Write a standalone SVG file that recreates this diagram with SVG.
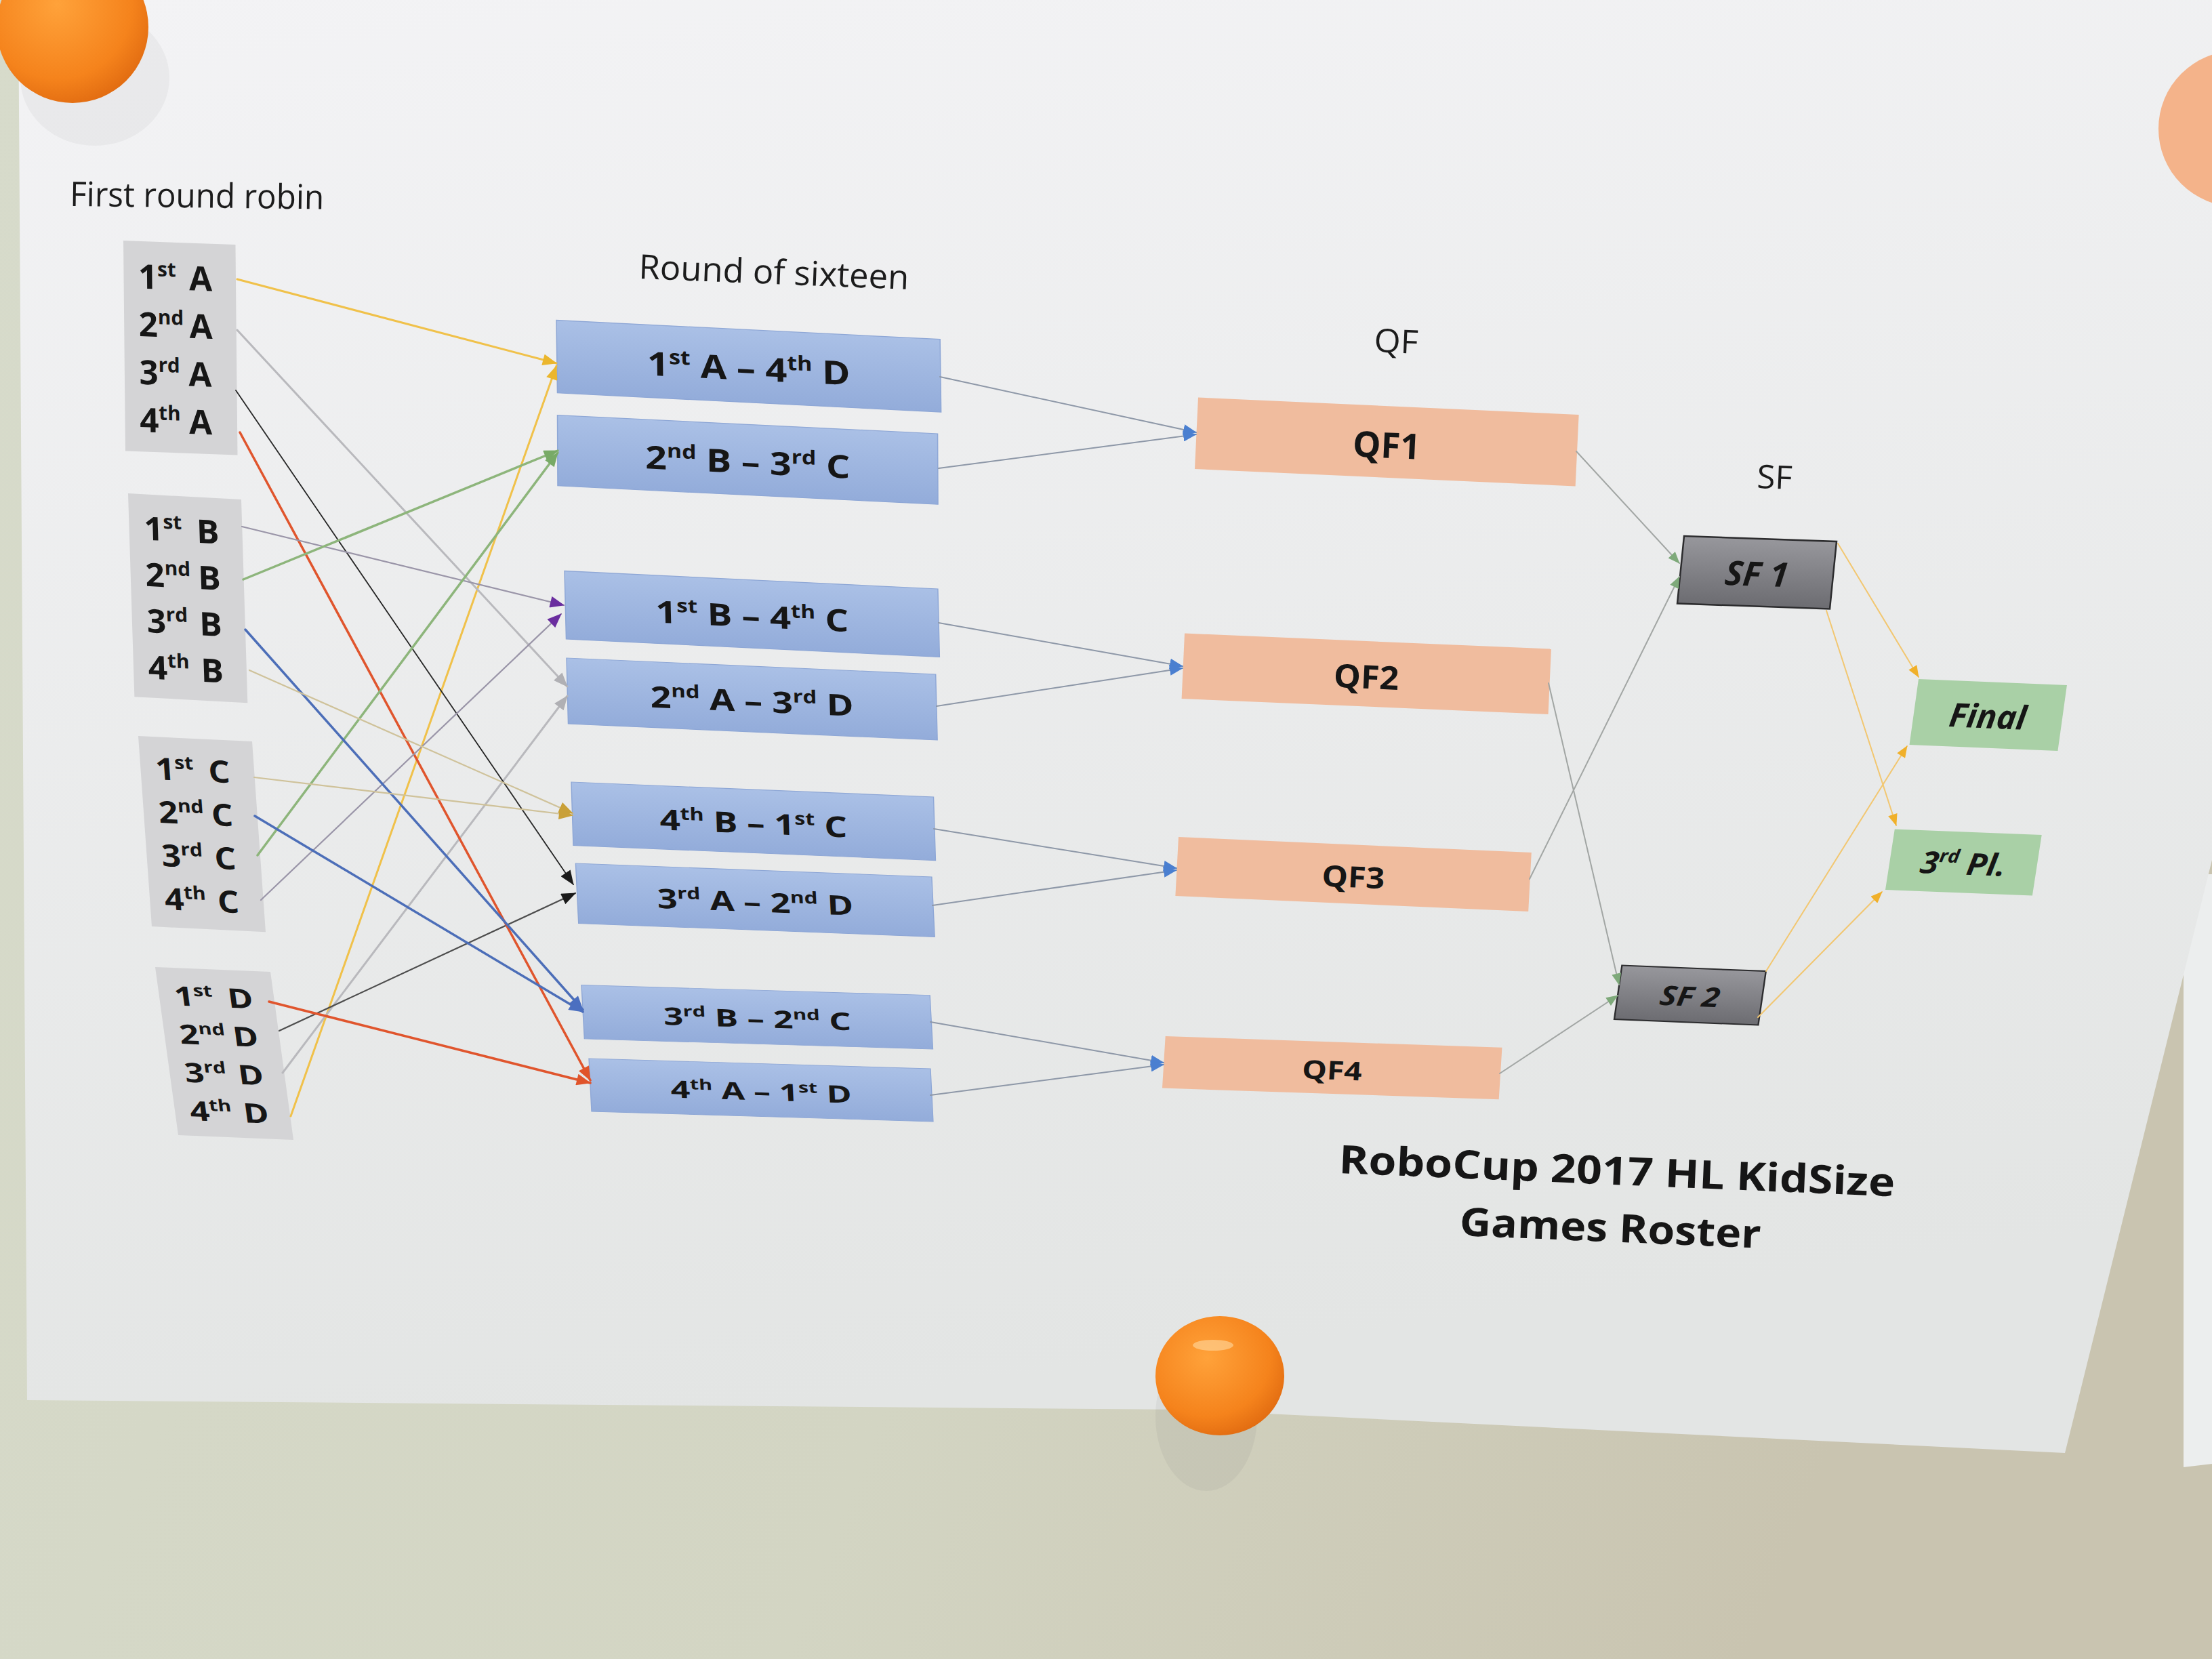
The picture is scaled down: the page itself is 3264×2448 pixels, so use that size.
<svg xmlns="http://www.w3.org/2000/svg" width="3264" height="2448" viewBox="0 0 3264 2448">
<defs>
<style>
.lbl{font-family:"Open Sans","Liberation Sans",sans-serif;font-weight:700;fill:#161616}
.hdr{font-family:"Open Sans","Liberation Sans",sans-serif;font-weight:400;fill:#1c1c1c}
.gt{font-size:50px}
.gsup{font-size:30px}
.rt{font-size:56px}
.rsup{font-size:34px}
.qt{font-size:52px}
.st{font-size:50px;font-style:italic}
.ssup{font-size:30px}
.grp{fill:#d4d4d6}
.r16{fill:url(#gBlue);stroke:#8ea7d6;stroke-width:1.5}
.qf{fill:#f0bc9e}
.sf{fill:url(#gGrey);stroke:#2c2c2e;stroke-width:2.5}
.fin{fill:#a9d0a6}
.c{fill:none;stroke-linecap:round}
.cy{stroke:#f0c14a;stroke-width:3}
.cg{stroke:#b9b9bd;stroke-width:3}
.ck{stroke:#262626;stroke-width:1.8}
.cd{stroke:#4d4d4d;stroke-width:2.2}
.cr{stroke:#e0552d;stroke-width:3.5}
.cp{stroke:#9a95a8;stroke-width:2.2}
.cgr{stroke:#8db57b;stroke-width:3.5}
.cb{stroke:#4c6eb8;stroke-width:3.5}
.ct{stroke:#cfc29a;stroke-width:2.2}
.cq{stroke:#8e98a8;stroke-width:2}
.cs{stroke:#a2a6a4;stroke-width:2}
.cf{stroke:#f2c771;stroke-width:2}
</style>
<linearGradient id="gBlue" x1="0" y1="0" x2="0" y2="1"><stop offset="0" stop-color="#aac0e6"/><stop offset="1" stop-color="#93acda"/></linearGradient>
<linearGradient id="gGrey" x1="0" y1="0" x2="0" y2="1"><stop offset="0" stop-color="#97979c"/><stop offset="1" stop-color="#6c6c71"/></linearGradient>
<linearGradient id="gPaper" x1="0" y1="0" x2="0.2" y2="1"><stop offset="0" stop-color="#f3f3f5"/><stop offset="1" stop-color="#e3e5e4"/></linearGradient>
<linearGradient id="gWall" x1="0" y1="0" x2="1" y2="0.3"><stop offset="0" stop-color="#d7dbcb"/><stop offset="0.6" stop-color="#d3d5c3"/><stop offset="1" stop-color="#c9c4b0"/></linearGradient>
<radialGradient id="gMag" cx="0.4" cy="0.35" r="0.7"><stop offset="0" stop-color="#ffa23a"/><stop offset="0.7" stop-color="#f5831c"/><stop offset="1" stop-color="#e06a10"/></radialGradient>
<marker id="mY" viewBox="0 0 10 8" refX="9.5" refY="4" markerWidth="22" markerHeight="17" markerUnits="userSpaceOnUse" orient="auto"><path d="M0,0L10,4L0,8z" fill="#ebb62d"/></marker>
<marker id="mG" viewBox="0 0 10 8" refX="9.5" refY="4" markerWidth="22" markerHeight="17" markerUnits="userSpaceOnUse" orient="auto"><path d="M0,0L10,4L0,8z" fill="#b0b0b4"/></marker>
<marker id="mK" viewBox="0 0 10 8" refX="9.5" refY="4" markerWidth="22" markerHeight="17" markerUnits="userSpaceOnUse" orient="auto"><path d="M0,0L10,4L0,8z" fill="#1a1a1a"/></marker>
<marker id="mR" viewBox="0 0 10 8" refX="9.5" refY="4" markerWidth="22" markerHeight="17" markerUnits="userSpaceOnUse" orient="auto"><path d="M0,0L10,4L0,8z" fill="#e0542a"/></marker>
<marker id="mP" viewBox="0 0 10 8" refX="9.5" refY="4" markerWidth="22" markerHeight="17" markerUnits="userSpaceOnUse" orient="auto"><path d="M0,0L10,4L0,8z" fill="#6a2d9f"/></marker>
<marker id="mGr" viewBox="0 0 10 8" refX="9.5" refY="4" markerWidth="22" markerHeight="17" markerUnits="userSpaceOnUse" orient="auto"><path d="M0,0L10,4L0,8z" fill="#78aa66"/></marker>
<marker id="mB" viewBox="0 0 10 8" refX="9.5" refY="4" markerWidth="22" markerHeight="17" markerUnits="userSpaceOnUse" orient="auto"><path d="M0,0L10,4L0,8z" fill="#4b6fc0"/></marker>
<marker id="mT" viewBox="0 0 10 8" refX="9.5" refY="4" markerWidth="22" markerHeight="17" markerUnits="userSpaceOnUse" orient="auto"><path d="M0,0L10,4L0,8z" fill="#c9a038"/></marker>
<marker id="mQ" viewBox="0 0 10 8" refX="9.5" refY="4" markerWidth="20" markerHeight="16" markerUnits="userSpaceOnUse" orient="auto"><path d="M0,0L10,4L0,8z" fill="#4a7fd0"/></marker>
<marker id="mS" viewBox="0 0 10 8" refX="9.5" refY="4" markerWidth="18" markerHeight="14" markerUnits="userSpaceOnUse" orient="auto"><path d="M0,0L10,4L0,8z" fill="#7ea97a"/></marker>
<marker id="mF" viewBox="0 0 10 8" refX="9.5" refY="4" markerWidth="18" markerHeight="14" markerUnits="userSpaceOnUse" orient="auto"><path d="M0,0L10,4L0,8z" fill="#f0b02a"/></marker>
</defs>

<g id="background">
<rect width="3264" height="2448" fill="url(#gWall)"/>
<polygon points="3222,1290 3264,1290 3264,2160 3222,2165" fill="#eceeee"/>
<polygon points="27,0 3264,0 3264,1269 3047,2144 1750,2080 40,2066" fill="url(#gPaper)"/>
<ellipse cx="140" cy="115" rx="110" ry="100" fill="#6a6a6a" opacity="0.06"/>
<circle cx="107" cy="40" r="112" fill="url(#gMag)"/>
<circle cx="3300" cy="190" r="115" fill="#f4a878" opacity="0.85"/>
<ellipse cx="1780" cy="2090" rx="75" ry="110" fill="#6a6a60" opacity="0.08"/>
<ellipse cx="1800" cy="2030" rx="95" ry="88" fill="url(#gMag)"/>
<ellipse cx="1790" cy="1985" rx="30" ry="8" fill="#ffd9a0" opacity="0.6"/>
</g>

<g id="nodes">
<g id="grpA" transform="matrix(0.985,0.036,0.0096,0.995,182,355)">
<rect class="grp" width="168" height="312"/>
<text class="lbl gt" x="22" y="70">1<tspan class="gsup" dy="-19">st</tspan><tspan x="98" dy="19">A</tspan></text>
<text class="lbl gt" x="22" y="141">2<tspan class="gsup" dy="-19">nd</tspan><tspan x="98" dy="19">A</tspan></text>
<text class="lbl gt" x="22" y="212">3<tspan class="gsup" dy="-19">rd</tspan><tspan x="96" dy="19">A</tspan></text>
<text class="lbl gt" x="22" y="283">4<tspan class="gsup" dy="-19">th</tspan><tspan x="96" dy="19">A</tspan></text>
</g>
<g id="grpB" transform="matrix(0.994,0.054,0.030,0.962,189,728)">
<rect class="grp" width="168" height="312"/>
<text class="lbl gt" x="22" y="70">1<tspan class="gsup" dy="-19">st</tspan><tspan x="100" dy="19">B</tspan></text>
<text class="lbl gt" x="22" y="141">2<tspan class="gsup" dy="-19">nd</tspan><tspan x="100" dy="19">B</tspan></text>
<text class="lbl gt" x="22" y="212">3<tspan class="gsup" dy="-19">rd</tspan><tspan x="100" dy="19">B</tspan></text>
<text class="lbl gt" x="22" y="283">4<tspan class="gsup" dy="-19">th</tspan><tspan x="100" dy="19">B</tspan></text>
</g>
<g id="grpC" transform="matrix(1.0,0.048,0.064,0.901,204,1086)">
<rect class="grp" width="168" height="312"/>
<text class="lbl gt" x="22" y="70">1<tspan class="gsup" dy="-19">st</tspan><tspan x="100" dy="19">C</tspan></text>
<text class="lbl gt" x="22" y="141">2<tspan class="gsup" dy="-19">nd</tspan><tspan x="100" dy="19">C</tspan></text>
<text class="lbl gt" x="22" y="212">3<tspan class="gsup" dy="-19">rd</tspan><tspan x="100" dy="19">C</tspan></text>
<text class="lbl gt" x="22" y="283">4<tspan class="gsup" dy="-19">th</tspan><tspan x="100" dy="19">C</tspan></text>
</g>
<g id="grpD" transform="matrix(1.012,0.042,0.109,0.795,229,1427)">
<rect class="grp" width="168" height="312"/>
<text class="lbl gt" x="22" y="70">1<tspan class="gsup" dy="-19">st</tspan><tspan x="100" dy="19">D</tspan></text>
<text class="lbl gt" x="22" y="141">2<tspan class="gsup" dy="-19">nd</tspan><tspan x="100" dy="19">D</tspan></text>
<text class="lbl gt" x="22" y="212">3<tspan class="gsup" dy="-19">rd</tspan><tspan x="100" dy="19">D</tspan></text>
<text class="lbl gt" x="22" y="283">4<tspan class="gsup" dy="-19">th</tspan><tspan x="100" dy="19">D</tspan></text>
</g>

<g id="r16-1" transform="matrix(1.002,0.0499,0.012,0.865,821,472.5)">
<rect class="r16" width="565" height="124"/>
<text class="lbl rt" x="282.5" y="86" text-anchor="middle">1<tspan class="rsup" dy="-21">st</tspan><tspan dy="21"> A – 4</tspan><tspan class="rsup" dy="-21">th</tspan><tspan dy="21"> D</tspan></text>
</g>
<g id="r16-2" transform="matrix(0.993,0.0485,0.004,0.840,822.5,612.6)">
<rect class="r16" width="565" height="124"/>
<text class="lbl rt" x="282.5" y="86" text-anchor="middle">2<tspan class="rsup" dy="-21">nd</tspan><tspan dy="21"> B – 3</tspan><tspan class="rsup" dy="-21">rd</tspan><tspan dy="21"> C</tspan></text>
</g>
<g id="r16-3" transform="matrix(0.975,0.0469,0.020,0.810,833,842.5)">
<rect class="r16" width="565" height="124"/>
<text class="lbl rt" x="282.5" y="86" text-anchor="middle">1<tspan class="rsup" dy="-21">st</tspan><tspan dy="21"> B – 4</tspan><tspan class="rsup" dy="-21">th</tspan><tspan dy="21"> C</tspan></text>
</g>
<g id="r16-4" transform="matrix(0.964,0.0425,0.020,0.782,836,971)">
<rect class="r16" width="565" height="124"/>
<text class="lbl rt" x="282.5" y="86" text-anchor="middle">2<tspan class="rsup" dy="-21">nd</tspan><tspan dy="21"> A – 3</tspan><tspan class="rsup" dy="-21">rd</tspan><tspan dy="21"> D</tspan></text>
</g>
<g id="r16-5" transform="matrix(0.946,0.039,0.024,0.754,843,1154)">
<rect class="r16" width="565" height="124"/>
<text class="lbl rt" x="282.5" y="86" text-anchor="middle">4<tspan class="rsup" dy="-21">th</tspan><tspan dy="21"> B – 1</tspan><tspan class="rsup" dy="-21">st</tspan><tspan dy="21"> C</tspan></text>
</g>
<g id="r16-6" transform="matrix(0.930,0.0354,0.035,0.713,849.4,1274)">
<rect class="r16" width="565" height="124"/>
<text class="lbl rt" x="282.5" y="86" text-anchor="middle">3<tspan class="rsup" dy="-21">rd</tspan><tspan dy="21"> A – 2</tspan><tspan class="rsup" dy="-21">nd</tspan><tspan dy="21"> D</tspan></text>
</g>
<g id="r16-7" transform="matrix(0.910,0.0267,0.035,0.640,858,1453.5)">
<rect class="r16" width="565" height="124"/>
<text class="lbl rt" x="282.5" y="86" text-anchor="middle">3<tspan class="rsup" dy="-21">rd</tspan><tspan dy="21"> B – 2</tspan><tspan class="rsup" dy="-21">nd</tspan><tspan dy="21"> C</tspan></text>
</g>
<g id="r16-8" transform="matrix(0.892,0.0265,0.032,0.629,869,1562)">
<rect class="r16" width="565" height="124"/>
<text class="lbl rt" x="282.5" y="86" text-anchor="middle">4<tspan class="rsup" dy="-21">th</tspan><tspan dy="21"> A – 1</tspan><tspan class="rsup" dy="-21">st</tspan><tspan dy="21"> D</tspan></text>
</g>

<g id="qf1" transform="matrix(1.003,0.0455,-0.048,1.005,1768,586.5)">
<rect class="qf" width="560" height="105"/>
<text class="lbl qt" x="280" y="76" text-anchor="middle">QF1</text>
</g>
<g id="qf2" transform="matrix(0.966,0.041,-0.042,0.918,1748,934.6)">
<rect class="qf" width="560" height="105"/>
<text class="lbl qt" x="280" y="76" text-anchor="middle">QF2</text>
</g>
<g id="qf3" transform="matrix(0.930,0.041,-0.044,0.829,1739,1235)">
<rect class="qf" width="560" height="105"/>
<text class="lbl qt" x="280" y="76" text-anchor="middle">QF3</text>
</g>
<g id="qf4" transform="matrix(0.887,0.030,-0.045,0.729,1719.7,1529)">
<rect class="qf" width="560" height="105"/>
<text class="lbl qt" x="280" y="76" text-anchor="middle">QF4</text>
</g>

<g id="sf1" transform="matrix(1,0.0356,-0.10,0.995,2485,791)">
<rect class="sf" width="225" height="100"/>
<text class="lbl st" x="112.5" y="70" text-anchor="middle">SF 1</text>
</g>
<g id="sf2" transform="matrix(0.944,0.038,-0.114,0.795,2393.4,1424.5)">
<rect class="sf" width="225" height="100"/>
<text class="lbl st" x="112.5" y="70" text-anchor="middle">SF 2</text>
</g>
<g id="final" transform="matrix(0.973,0.04,-0.135,0.97,2831,1002)">
<rect class="fin" width="225" height="100"/>
<text class="lbl st" x="112.5" y="70" text-anchor="middle">Final</text>
</g>
<g id="third" transform="matrix(0.964,0.038,-0.138,0.895,2795.8,1223.5)">
<rect class="fin" width="225" height="100"/>
<text class="lbl st" x="112.5" y="70" text-anchor="middle">3<tspan class="ssup" dy="-19">rd</tspan><tspan dy="19"> Pl.</tspan></text>
</g>
</g>

<g id="connectors">
<path class="c cy" d="M350,412L821,536" marker-end="url(#mY)"/>
<path class="c cy" d="M429,1647L821,540" marker-end="url(#mY)"/>
<path class="c cg" d="M350,487L837,1013" marker-end="url(#mG)"/>
<path class="c cg" d="M417,1583L837,1027" marker-end="url(#mG)"/>
<path class="c ck" d="M348,576L846,1305" marker-end="url(#mK)"/>
<path class="c cd" d="M412,1521L849,1318" marker-end="url(#mK)"/>
<path class="c cr" d="M354,638L871,1594" marker-end="url(#mR)"/>
<path class="c cr" d="M397,1478L871,1598" marker-end="url(#mR)"/>
<path class="c cp" d="M357,777L832,893" marker-end="url(#mP)"/>
<path class="c cp" d="M385,1328L828,906" marker-end="url(#mP)"/>
<path class="c cgr" d="M359,855L823,665" marker-end="url(#mGr)"/>
<path class="c cgr" d="M380,1262L823,668" marker-end="url(#mGr)"/>
<path class="c cb" d="M362,929L860,1490" marker-end="url(#mB)"/>
<path class="c cb" d="M376,1204L860,1493" marker-end="url(#mB)"/>
<path class="c ct" d="M368,989L845,1200" marker-end="url(#mT)"/>
<path class="c ct" d="M375,1147L845,1203" marker-end="url(#mT)"/>
<path class="c cq" d="M1387,556L1765,638" marker-end="url(#mQ)"/>
<path class="c cq" d="M1385,691L1765,641" marker-end="url(#mQ)"/>
<path class="c cq" d="M1385,919L1745,983" marker-end="url(#mQ)"/>
<path class="c cq" d="M1382,1042L1745,986" marker-end="url(#mQ)"/>
<path class="c cq" d="M1378,1223L1736,1281" marker-end="url(#mQ)"/>
<path class="c cq" d="M1376,1336L1736,1284" marker-end="url(#mQ)"/>
<path class="c cq" d="M1373,1508L1717,1568" marker-end="url(#mQ)"/>
<path class="c cq" d="M1373,1616L1717,1571" marker-end="url(#mQ)"/>
<path class="c cs" d="M2326,666L2478,831" marker-end="url(#mS)"/>
<path class="c cs" d="M2257,1297L2478,851" marker-end="url(#mS)"/>
<path class="c cs" d="M2285,1008L2389,1453" marker-end="url(#mS)"/>
<path class="c cs" d="M2213,1584L2387,1469" marker-end="url(#mS)"/>
<path class="c cf" d="M2712,802L2831,999" marker-end="url(#mF)"/>
<path class="c cf" d="M2695,901L2798,1218" marker-end="url(#mF)"/>
<path class="c cf" d="M2606,1433L2814,1101" marker-end="url(#mF)"/>
<path class="c cf" d="M2594,1501L2777,1316" marker-end="url(#mF)"/>
</g>

<g id="labels">
<text class="hdr" x="103" y="304" font-size="50" textLength="375" lengthAdjust="spacingAndGlyphs" transform="rotate(0.7 103 304)">First round robin</text>
<text class="hdr" x="942" y="411" font-size="50" textLength="399" lengthAdjust="spacingAndGlyphs" transform="rotate(2.3 942 411)">Round of sixteen</text>
<text class="hdr" x="2027" y="519" font-size="48" textLength="65" lengthAdjust="spacingAndGlyphs" transform="rotate(2.4 2027 519)">QF</text>
<text class="hdr" x="2592" y="720" font-size="48" textLength="52" lengthAdjust="spacingAndGlyphs" transform="rotate(2.3 2592 720)">SF</text>
<text class="lbl" x="1975" y="1731" font-size="58" textLength="821" lengthAdjust="spacingAndGlyphs" transform="rotate(2.4 1975 1731)">RoboCup 2017 HL KidSize</text>
<text class="lbl" x="2153" y="1823" font-size="58" textLength="445" lengthAdjust="spacingAndGlyphs" transform="rotate(2.4 2153 1823)">Games Roster</text>
</g>
</svg>
